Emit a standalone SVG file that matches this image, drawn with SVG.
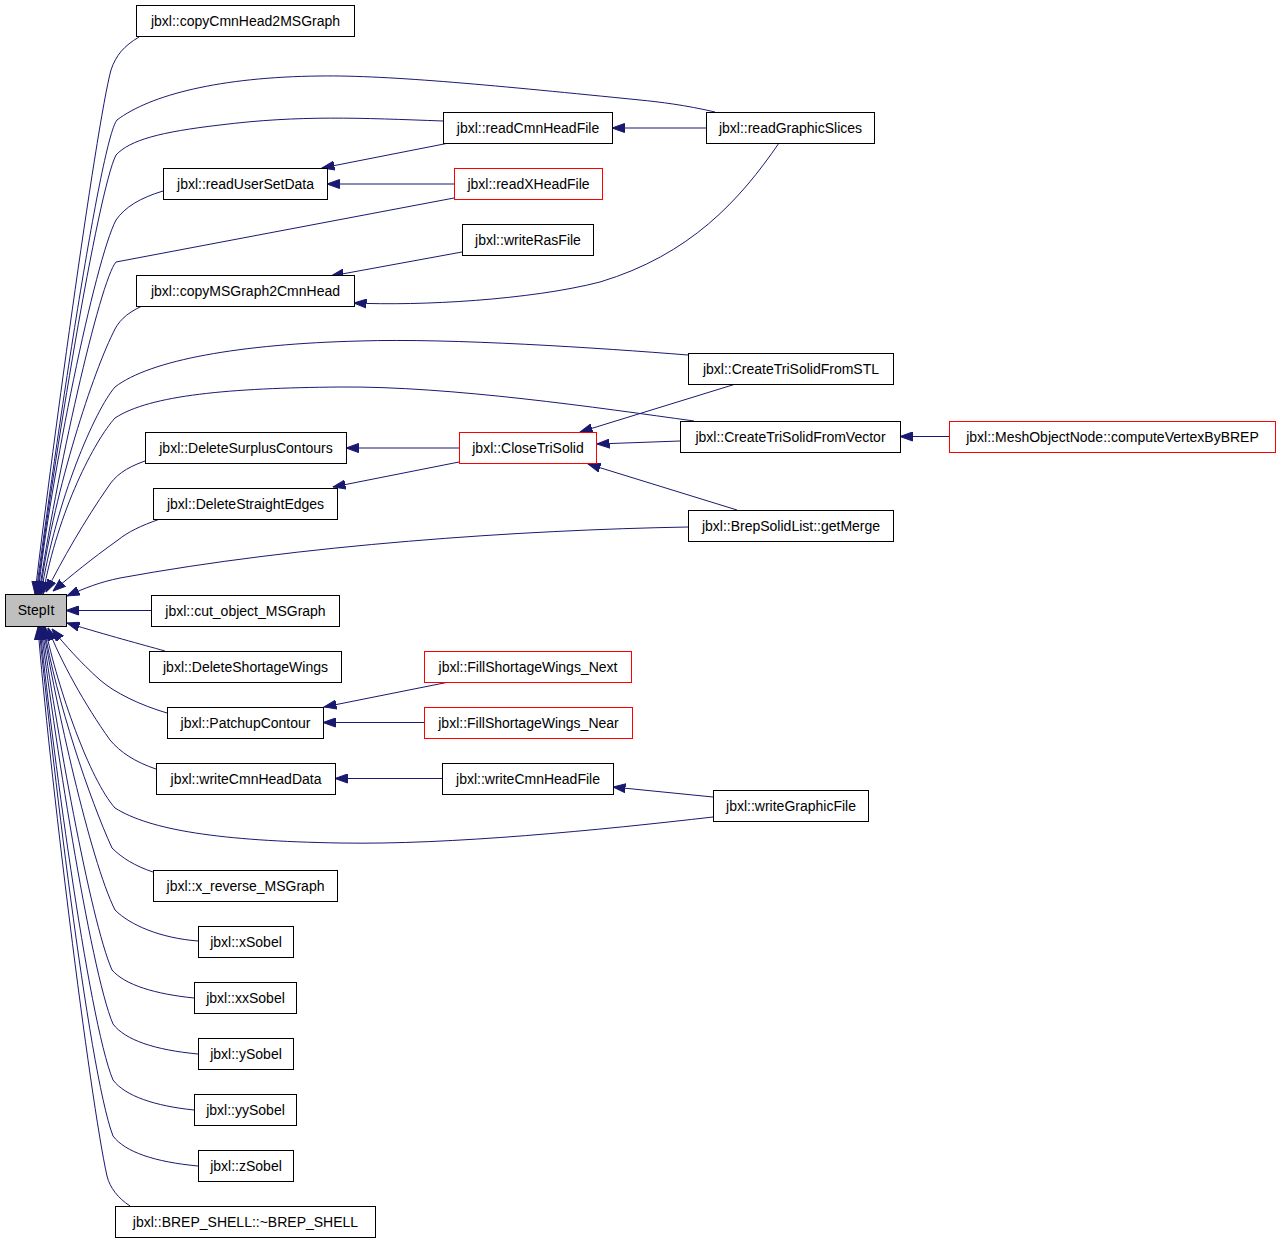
<svg xmlns="http://www.w3.org/2000/svg" width="1280" height="1243" viewBox="0 0 1280 1243">
<style>
.n rect{fill:#fff;stroke:#000;stroke-width:1}
.n.r rect{stroke:#ff0000}
.n.s rect{fill:#bfbfbf}
.n text{font-family:"Liberation Sans",Arial,sans-serif;font-size:14px;text-anchor:middle;fill:#000}
.e path{fill:none;stroke:#191970;stroke-width:1;marker-end:url(#ah)}
</style>
<defs>
<marker id="ah" markerUnits="userSpaceOnUse" markerWidth="13" markerHeight="10" viewBox="0 0 13 10" refX="12.5" refY="5" orient="auto">
<path d="M0,0.5 L12.5,5 L0,9.5 z" fill="#191970" stroke="#191970" stroke-width="1"/>
</marker>
</defs>
<rect width="1280" height="1243" fill="#fff"/>
<g id="edges" class="e">
<path d="M139,37 C124,46 116,55 111,70 C96,125 48,480 35,594"/>
<path d="M715,112 C685,105 660,102 640,100 C500,86 390,75 320,76 C220,77 150,95 117,120 C100,140 52,470 36,594"/>
<path d="M443,121 C360,118 300,115 220,125 C160,132 130,140 116,155 C98,190 52,470 37,594"/>
<path d="M163,191 C140,198 125,207 116,220 C95,260 50,480 38,594"/>
<path d="M454,198 L116,262 C100,280 55,480 39,594"/>
<path d="M142,306 C125,314 118,322 113,333 C90,380 52,500 40,594"/>
<path d="M688,355 C600,348 450,338 360,341 C240,344 150,360 115,387 C95,410 56,500 41,594"/>
<path d="M694,421 C600,408 450,386 340,387 C230,388 150,395 115,418 C95,440 58,510 43,594"/>
<path d="M145,461 C125,468 115,476 108,487 C85,520 62,560 46,592"/>
<path d="M160,519 C140,526 128,532 118,540 C90,560 72,575 53,591"/>
<path d="M688,527 C520,530 300,545 120,578 C100,582 85,588 67,596"/>
<path d="M151,610.5 L66,610.5"/>
<path d="M165,651 C140,644 110,636 67,623"/>
<path d="M167,713 C140,705 115,693 100,680 C80,662 65,645 52,629"/>
<path d="M156,769 C135,762 120,752 110,740 C85,705 60,660 48,628"/>
<path d="M713,817 C600,830 450,845 340,843 C220,841 150,830 115,808 C90,780 58,690 45,627"/>
<path d="M153,872 C135,866 122,858 112,848 C90,800 56,700 44,627"/>
<path d="M198,941 C160,938 130,925 115,910 C90,860 55,700 43,627"/>
<path d="M194,998 C155,994 125,985 112,970 C90,920 55,720 42,627"/>
<path d="M198,1054 C155,1050 125,1040 113,1024 C90,970 52,720 41,627"/>
<path d="M194,1110 C155,1106 125,1096 113,1080 C88,1020 50,730 40,627"/>
<path d="M198,1166 C155,1162 125,1152 113,1136 C88,1070 50,740 39,627"/>
<path d="M130,1206 C118,1198 110,1188 107,1176 C90,1100 48,760 38,627"/>
<path d="M449,143 L322,168"/>
<path d="M454,184 L327,184"/>
<path d="M462,252 L331,276"/>
<path d="M706,128 L612,128"/>
<path d="M779,143 C740,200 690,255 600,282 C530,300 420,306 354,303"/>
<path d="M459,448 L346,448"/>
<path d="M459,462 L333,487"/>
<path d="M739,383 L580,432"/>
<path d="M680,441 L597,444"/>
<path d="M737,510 L588,464"/>
<path d="M949,436.5 L900,436.5"/>
<path d="M449,682 L324,707"/>
<path d="M424,722.5 L323,722.5"/>
<path d="M442,778.5 L335,778.5"/>
<path d="M713,797 L613,787"/>
</g>
<g id="n_StepIt" class="n s"><rect x="5.5" y="594.5" width="61" height="32"/><text x="36" y="615">StepIt</text></g>
<g id="n_copyCmnHead2MSGraph" class="n"><rect x="136.5" y="5.5" width="218" height="31"/><text x="245.5" y="26">jbxl::copyCmnHead2MSGraph</text></g>
<g id="n_readUserSetData" class="n"><rect x="163.5" y="168.5" width="164" height="31"/><text x="245.5" y="189">jbxl::readUserSetData</text></g>
<g id="n_copyMSGraph2CmnHead" class="n"><rect x="136.5" y="275.5" width="218" height="31"/><text x="245.5" y="296">jbxl::copyMSGraph2CmnHead</text></g>
<g id="n_DeleteSurplusContours" class="n"><rect x="145.5" y="432.5" width="201" height="31"/><text x="246" y="453">jbxl::DeleteSurplusContours</text></g>
<g id="n_DeleteStraightEdges" class="n"><rect x="153.5" y="488.5" width="184" height="31"/><text x="245.5" y="509">jbxl::DeleteStraightEdges</text></g>
<g id="n_cut_object_MSGraph" class="n"><rect x="151.5" y="595.5" width="188" height="31"/><text x="245.5" y="616">jbxl::cut_object_MSGraph</text></g>
<g id="n_DeleteShortageWings" class="n"><rect x="149.5" y="651.5" width="192" height="31"/><text x="245.5" y="672">jbxl::DeleteShortageWings</text></g>
<g id="n_PatchupContour" class="n"><rect x="167.5" y="707.5" width="156" height="31"/><text x="245.5" y="728">jbxl::PatchupContour</text></g>
<g id="n_writeCmnHeadData" class="n"><rect x="156.5" y="763.5" width="179" height="31"/><text x="246" y="784">jbxl::writeCmnHeadData</text></g>
<g id="n_x_reverse_MSGraph" class="n"><rect x="153.5" y="870.5" width="184" height="31"/><text x="245.5" y="891">jbxl::x_reverse_MSGraph</text></g>
<g id="n_xSobel" class="n"><rect x="198.5" y="926.5" width="95" height="31"/><text x="246" y="947">jbxl::xSobel</text></g>
<g id="n_xxSobel" class="n"><rect x="194.5" y="982.5" width="102" height="31"/><text x="245.5" y="1003">jbxl::xxSobel</text></g>
<g id="n_ySobel" class="n"><rect x="198.5" y="1038.5" width="95" height="31"/><text x="246" y="1059">jbxl::ySobel</text></g>
<g id="n_yySobel" class="n"><rect x="194.5" y="1094.5" width="102" height="31"/><text x="245.5" y="1115">jbxl::yySobel</text></g>
<g id="n_zSobel" class="n"><rect x="198.5" y="1150.5" width="95" height="31"/><text x="246" y="1171">jbxl::zSobel</text></g>
<g id="n_BREP_SHELL" class="n"><rect x="115.5" y="1206.5" width="260" height="31"/><text x="245.5" y="1227">jbxl::BREP_SHELL::~BREP_SHELL</text></g>
<g id="n_readCmnHeadFile" class="n"><rect x="443.5" y="112.5" width="169" height="31"/><text x="528" y="133">jbxl::readCmnHeadFile</text></g>
<g id="n_readXHeadFile" class="n r"><rect x="454.5" y="168.5" width="148" height="31"/><text x="528.5" y="189">jbxl::readXHeadFile</text></g>
<g id="n_writeRasFile" class="n"><rect x="462.5" y="224.5" width="131" height="31"/><text x="528" y="245">jbxl::writeRasFile</text></g>
<g id="n_CloseTriSolid" class="n r"><rect x="459.5" y="432.5" width="137" height="31"/><text x="528" y="453">jbxl::CloseTriSolid</text></g>
<g id="n_FillShortageWings_Next" class="n r"><rect x="424.5" y="651.5" width="207" height="31"/><text x="528" y="672">jbxl::FillShortageWings_Next</text></g>
<g id="n_FillShortageWings_Near" class="n r"><rect x="424.5" y="707.5" width="208" height="31"/><text x="528.5" y="728">jbxl::FillShortageWings_Near</text></g>
<g id="n_writeCmnHeadFile" class="n"><rect x="442.5" y="763.5" width="171" height="31"/><text x="528" y="784">jbxl::writeCmnHeadFile</text></g>
<g id="n_readGraphicSlices" class="n"><rect x="706.5" y="112.5" width="168" height="31"/><text x="790.5" y="133">jbxl::readGraphicSlices</text></g>
<g id="n_CreateTriSolidFromSTL" class="n"><rect x="688.5" y="353.5" width="205" height="31"/><text x="791" y="374">jbxl::CreateTriSolidFromSTL</text></g>
<g id="n_CreateTriSolidFromVector" class="n"><rect x="680.5" y="421.5" width="220" height="31"/><text x="790.5" y="442">jbxl::CreateTriSolidFromVector</text></g>
<g id="n_getMerge" class="n"><rect x="688.5" y="510.5" width="205" height="31"/><text x="791" y="531">jbxl::BrepSolidList::getMerge</text></g>
<g id="n_writeGraphicFile" class="n"><rect x="713.5" y="790.5" width="155" height="31"/><text x="791" y="811">jbxl::writeGraphicFile</text></g>
<g id="n_computeVertexByBREP" class="n r"><rect x="949.5" y="421.5" width="326" height="31"/><text x="1112.5" y="442">jbxl::MeshObjectNode::computeVertexByBREP</text></g>
</svg>
